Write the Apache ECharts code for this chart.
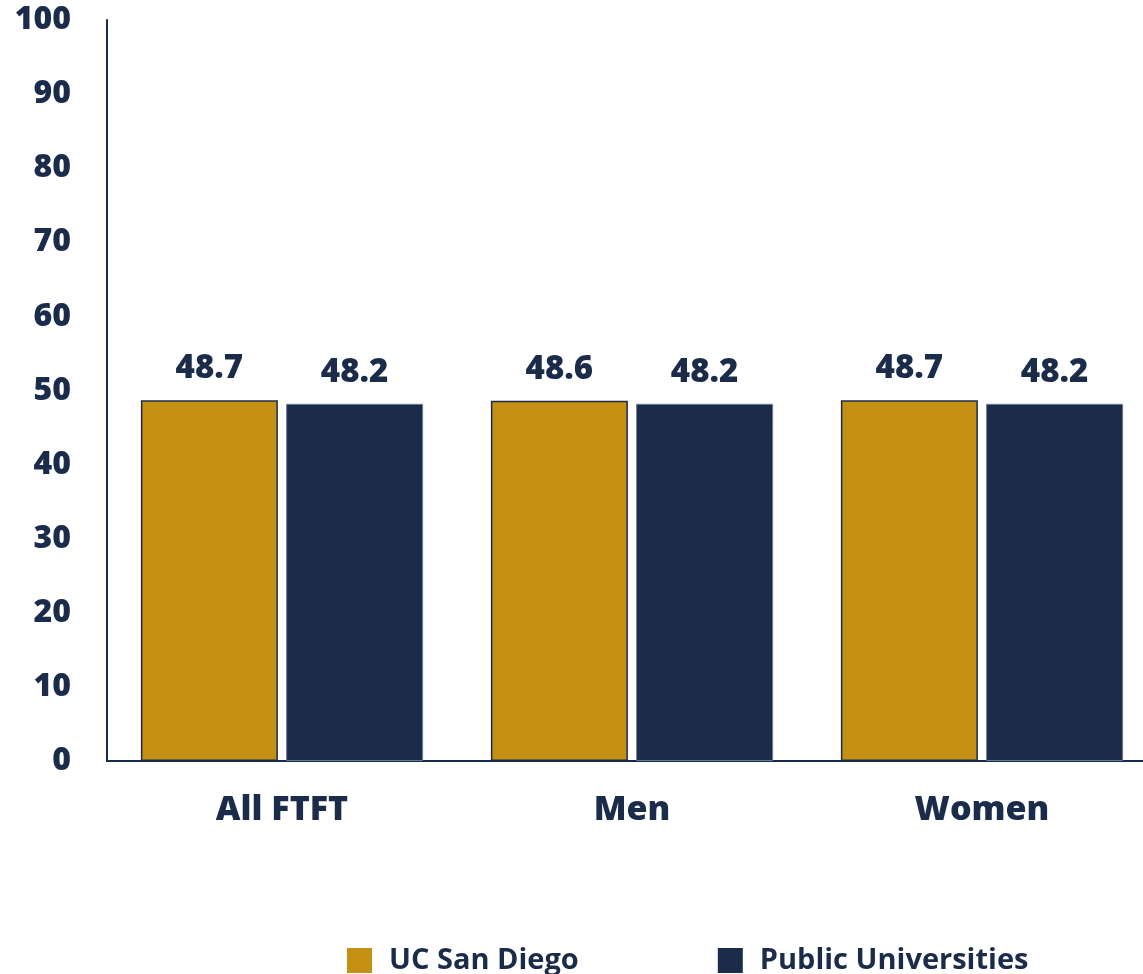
<!DOCTYPE html>
<html>
<head>
<meta charset="utf-8">
<script src="https://cdn.jsdelivr.net/npm/echarts@6/dist/echarts.min.js"></script>
<style>
    html, body { margin: 0; padding: 0; background: #fff; }
    #chart { width: 1143px; height: 974px; }
</style>
</head>
<body>
<div id="chart"></div>
<script>
// 分类与数据
const categories = ['All FTFT', 'Men', 'Women']
const ucsdValues = [48.7, 48.6, 48.7]
const publicValues = [48.2, 48.2, 48.2]
const seriesNames = ['UC San Diego', 'Public Universities']

const NAVY = '#1b2c4a'
const GOLD = '#c49115'
const FONT = '"Open Sans", "Noto Sans", sans-serif'
const WEIGHT = 800

const myChart = echarts.init(document.getElementById('chart'))
const labelStyle = {
    show: true,
    position: 'top',
    distance: 15,
    color: NAVY,
    fontSize: 33,
    fontWeight: WEIGHT,
    fontFamily: FONT,
    formatter: (p) => p.value.toFixed(1)
}
const option = {
    animation: false,
    textStyle: { fontFamily: FONT },
    grid: {
        left: 107,
        right: -14,
        top: 20,
        bottom: 213,
        containLabel: false,
        outerBoundsMode: 'none'
    },
    legend: {
        data: seriesNames,
        left: 347,
        top: 946,
        padding: 0,
        itemWidth: 25,
        itemHeight: 25,
        itemGap: 139,
        icon: 'rect',
        itemStyle: { borderWidth: 0 },
        textStyle: {
            color: NAVY,
            fontSize: 29,
            fontWeight: 700,
            fontFamily: FONT,
            padding: [4, 0, 0, 12]
        }
    },
    xAxis: {
        type: 'category',
        data: categories,
        axisLine: { lineStyle: { color: NAVY, width: 2 } },
        axisTick: { show: false },
        axisLabel: {
            color: NAVY,
            fontSize: 34,
            fontWeight: WEIGHT,
            fontFamily: FONT,
            margin: 32
        }
    },
    yAxis: {
        type: 'value',
        min: 0,
        max: 100,
        interval: 10,
        axisLine: { show: true, lineStyle: { color: NAVY, width: 2 } },
        axisTick: { show: false },
        splitLine: { show: false },
        axisLabel: {
            color: NAVY,
            fontSize: 32,
            fontWeight: WEIGHT,
            fontFamily: FONT,
            margin: 36
        }
    },
    series: [
        {
            name: seriesNames[0],
            type: 'bar',
            data: ucsdValues,
            barWidth: 137,
            barGap: '6%',
            itemStyle: { color: GOLD, borderColor: NAVY, borderWidth: 1.5 },
            label: labelStyle
        },
        {
            name: seriesNames[1],
            type: 'bar',
            data: publicValues,
            barWidth: 137,
            itemStyle: { color: NAVY, borderColor: '#6b7a93', borderWidth: 1 },
            label: labelStyle
        }
    ]
}
myChart.setOption(option)
</script>
</body>
</html>
